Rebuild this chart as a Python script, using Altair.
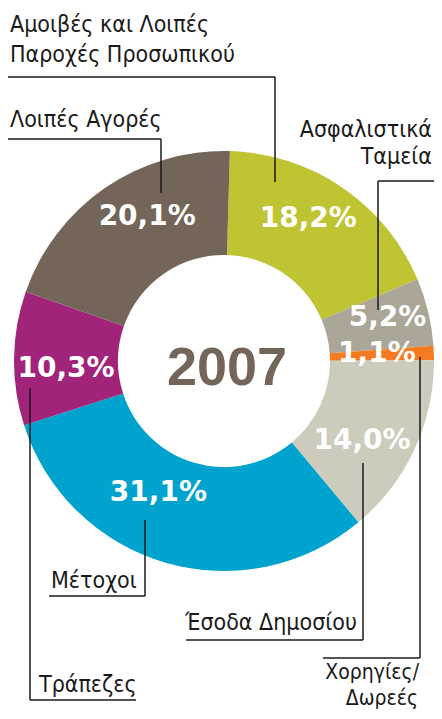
import altair as alt
import pandas as pd

# ---- data ----
categories = ["Αμοιβές και Λοιπές Παροχές Προσωπικού", "Ασφαλιστικά Ταμεία",
              "Χορηγίες/Δωρεές", "Έσοδα Δημοσίου", "Μέτοχοι", "Τράπεζες",
              "Λοιπές Αγορές"]
values = [18.2, 5.2, 1.1, 14.0, 31.1, 10.3, 20.1]
labels = ["18,2%", "5,2%", "1,1%", "14,0%", "31,1%", "10,3%", "20,1%"]
colors = ["#BFC432", "#ABA698", "#F47B20", "#CDCBBC", "#00A3CE", "#A2237A", "#736659"]
year = "2007"

df = pd.DataFrame({"cat": categories, "value": values, "label": labels,
                   "idx": list(range(len(categories)))})

# ---- style / layout ----
CX, CY = 216, 353
R_IN, R_OUT = 106, 210
ROT = 0.028
theta_scale = alt.Scale(domain=[0, 100], range=[ROT, 6.283185 + ROT])
color_scale = alt.Scale(domain=categories, range=colors)
LABEL_FONT = "Liberation Sans Narrow, DejaVu Sans Condensed, Liberation Sans, sans-serif"
PCT_FONT = "DejaVu Sans"
INK = "#1a1a1a"

base = alt.Chart(df).transform_window(
    cum="sum(value)", sort=[alt.SortField("idx")]
).transform_calculate(
    start="datum.cum - datum.value", mid="datum.cum - datum.value/2"
)

arcs = base.mark_arc(innerRadius=R_IN, outerRadius=R_OUT).encode(
    theta=alt.Theta("start:Q", scale=theta_scale, stack=None),
    theta2="cum:Q",
    color=alt.Color("cat:N", scale=color_scale, legend=None),
    x=alt.value(CX), y=alt.value(CY),
)

# per-label nudges (dx, dy)
nudges = {
    "Αμοιβές και Λοιπές Παροχές Προσωπικού": (-6, -10),
    "Ασφαλιστικά Ταμεία": (8, -6),
    "Χορηγίες/Δωρεές": (-7, -1),
    "Έσοδα Δημοσίου": (-7, 12),
    "Μέτοχοι": (-21, -22),
    "Τράπεζες": (2, 10),
    "Λοιπές Αγορές": (14, -12),
}
pct_layers = []
for c in categories:
    dx, dy = nudges[c]
    pct_layers.append(
        base.transform_filter(alt.datum.cat == c).mark_text(
            radius=160, font=PCT_FONT, fontSize=28, fontWeight="bold",
            color="white", align="center", baseline="middle", dx=dx, dy=dy
        ).encode(
            theta=alt.Theta("mid:Q", scale=theta_scale, stack=None),
            text="label:N",
            x=alt.value(CX), y=alt.value(CY),
        )
    )

one = alt.Chart(pd.DataFrame({"k": [0]}))

center = one.mark_text(font="Liberation Sans", fontSize=54, fontWeight="bold",
                       color="#736659", align="center", baseline="alphabetic").encode(
    x=alt.value(219), y=alt.value(377), text=alt.value(year))

# leader line segments (x1, y1, x2, y2)
segments = [
    (0, 69, 267, 69), (267, 69, 267, 174),
    (0, 131, 153, 131), (153, 131, 153, 185),
    (370, 173, 426, 173), (370, 173, 370, 302),
    (412, 349, 412, 650), (315, 650, 412, 650),
    (355, 455, 355, 632), (178, 632, 355, 632),
    (137, 512, 137, 588), (41, 588, 137, 588),
    (22, 380, 22, 692), (22, 692, 128, 692),
]
rules = [one.mark_rule(color=INK, strokeWidth=1.5).encode(
    x=alt.value(a), y=alt.value(b), x2=alt.value(c), y2=alt.value(d))
    for a, b, c, d in segments]

# outer label lines (text, x, y, align, size)
outer = [
    ("Αμοιβές και Λοιπές", 2, 24, "left", 23),
    ("Παροχές Προσωπικού", 2, 54, "left", 23),
    ("Λοιπές Αγορές", 2, 119, "left", 23),
    ("Ασφαλιστικά", 424, 129, "right", 23),
    ("Ταμεία", 424, 156, "right", 23),
    ("Χορηγίες/", 411, 671, "right", 21),
    ("Δωρεές", 410, 697, "right", 21),
    ("Έσοδα Δημοσίου", 177, 622, "left", 23),
    ("Μέτοχοι", 43, 580, "left", 23),
    ("Τράπεζες", 31, 684, "left", 23),
]
texts = [one.mark_text(font=LABEL_FONT, fontSize=fs, color=INK, align=al,
                       baseline="alphabetic").encode(
    x=alt.value(x), y=alt.value(y), text=alt.value(t))
    for t, x, y, al, fs in outer]

chart = alt.layer(arcs, *rules, *pct_layers, center, *texts).properties(
    width=426, height=703, padding=0, autosize="none", background="white"
).configure_view(stroke=None)

chart.save("out.html", embed_options={"renderer": "svg", "actions": False})
